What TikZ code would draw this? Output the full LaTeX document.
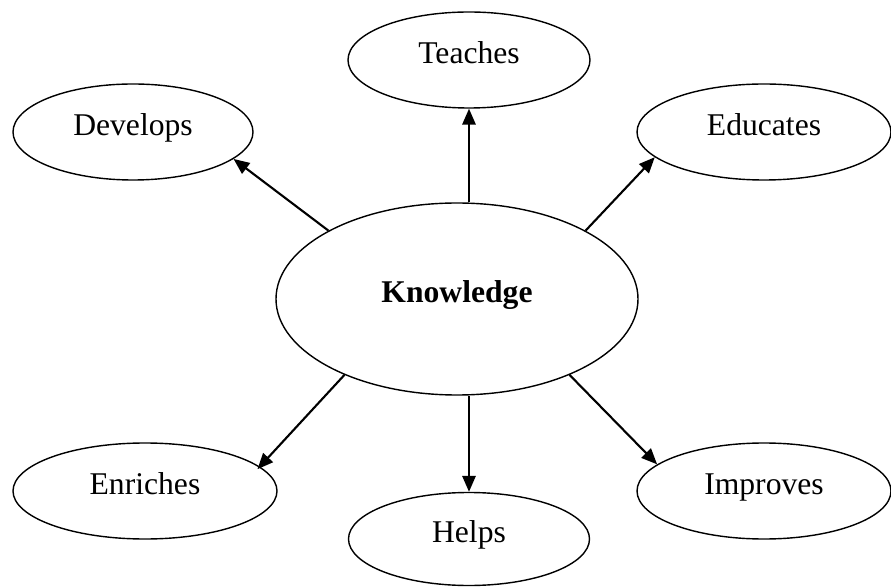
\documentclass[tikz,border=0pt]{standalone}
\usepackage{fontspec}
\setmainfont{Liberation Serif}
\usetikzlibrary{shapes.geometric,arrows.meta}
\begin{document}
\begin{tikzpicture}[>={Triangle[length=9pt,width=7.5pt]},
    bubble/.style={draw, ellipse, line width=0.8pt, inner sep=0pt,
      text height=0.7em, text depth=0.3em,
      font=\fontsize{18}{22}\selectfont},
    link/.style={->, line width=1.2pt}]
    \useasboundingbox (0, 0) rectangle (17.82, 11.72);
    \node[bubble, minimum width=7.24cm, minimum height=3.84cm] (know) at (9.14, 5.74) {\textbf{Knowledge}};
    \node[bubble, minimum width=4.84cm, minimum height=1.92cm] (teach) at (9.38, 10.52) {Teaches};
    \node[bubble, minimum width=4.8cm, minimum height=1.92cm] (devel) at (2.66, 9.08) {Develops};
    \node[bubble, minimum width=5.08cm, minimum height=1.92cm] (educ) at (15.28, 9.08) {Educates};
    \node[bubble, minimum width=5.28cm, minimum height=1.92cm] (enrich) at (2.9, 1.9) {Enriches};
    \node[bubble, minimum width=4.82cm, minimum height=1.86cm] (helps) at (9.38, 0.94) {Helps};
    \node[bubble, minimum width=5.08cm, minimum height=1.92cm] (impr) at (15.28, 1.9) {Improves};
    % arrows out of the centre
    \draw[link] (know.north -| teach.south) -- (teach.south);
    \draw[link] (know.152) -- (devel.-15);
    \draw[link] (know.28.5) -- (educ.193.6);
    \draw[link, shorten >=-2pt] (know.214.5) -- (enrich.12);
    \draw[link] (know.south -| helps.north) -- (helps.north);
    \draw[link] (know.326.3) -- (impr.166.7);
  \end{tikzpicture}
\end{document}
